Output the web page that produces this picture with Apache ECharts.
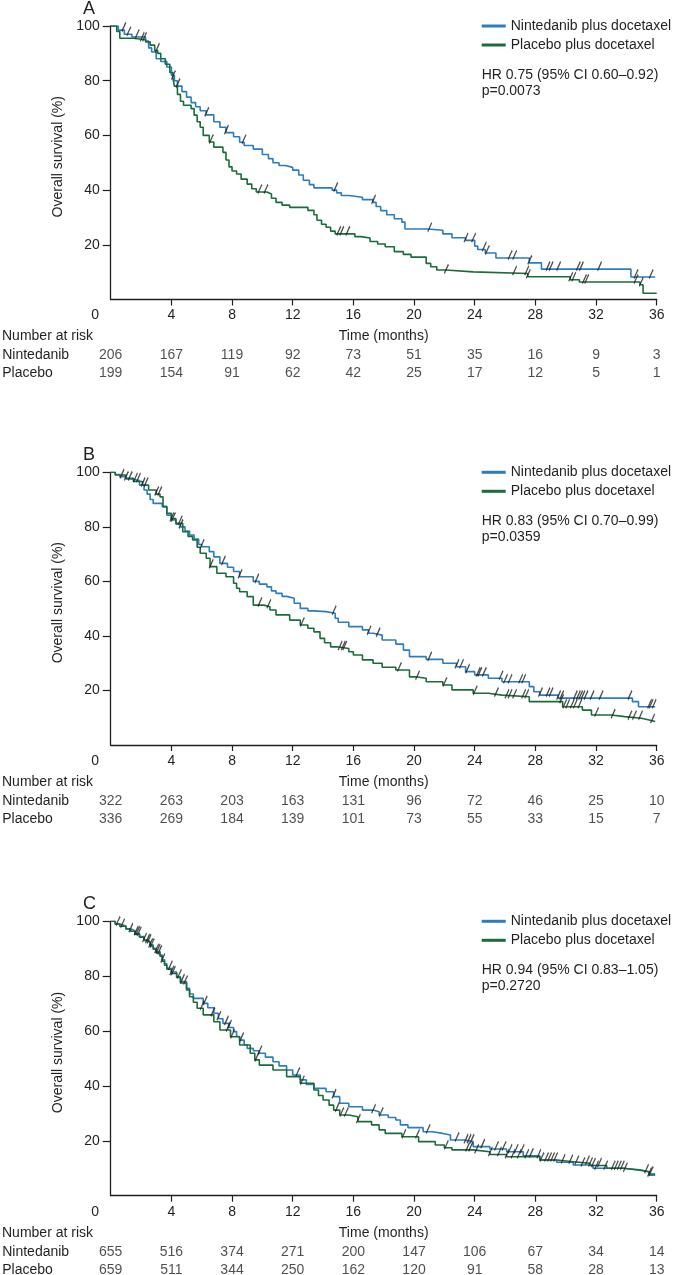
<!DOCTYPE html>
<html>
<head>
<meta charset="utf-8">
<script src="https://cdn.jsdelivr.net/npm/echarts@6/dist/echarts.min.js"></script>
<style>
  html, body { margin: 0; padding: 0; background: #fff; }
  #chart { width: 674px; height: 1275px; }
</style>
</head>
<body>
<div id="chart"></div>
<script>
// ---- data ----
const months = [0, 4, 8, 12, 16, 20, 24, 28, 32, 36];
const survTicks = [20, 40, 60, 80, 100];
const rowNames = ['Nintedanib', 'Placebo'];
const seriesNames = ['Nintedanib plus docetaxel', 'Placebo plus docetaxel'];

// Panel A: Kaplan-Meier steps [month, % surviving]
const kmA_nin = [[0,100],[0.5,98.5],[0.9,97],[1.4,96],[2.3,94.5],[2.5,92],[2.7,90.5],[3.0,88],[3.3,87],[3.7,85],[4.0,82],[4.2,80],[4.4,78],[4.7,76],[5.0,74],[5.3,72],[5.6,70.5],[5.9,69],[6.3,67.5],[6.8,65],[7.2,63],[7.6,61],[8.1,59.5],[8.5,57.5],[8.8,56.3],[9.4,55],[10.0,53],[10.4,51.5],[10.7,50],[11.1,49],[11.5,48.3],[12.0,47.3],[12.4,45.5],[12.7,43.6],[13.1,42],[13.4,40.8],[14.6,40],[14.9,39],[15.2,38],[15.7,37.4],[16.6,36.5],[17.3,35.5],[17.5,34],[17.8,32.5],[18.2,31],[18.7,29.5],[19.2,28.3],[19.4,25.8],[20.9,25.3],[21.9,24],[22.5,22.6],[23.4,21.6],[24.0,19.5],[24.2,18.3],[24.7,17],[25.4,15.2],[27.6,13.4],[28.4,11.1],[34.3,8.2],[35.9,8.2]];
const kmA_pla = [[0,100],[0.4,98],[0.6,95.5],[1.5,95],[2.3,94.2],[2.6,93],[2.9,91],[3.1,90],[3.3,88],[3.6,86],[3.9,83],[4.1,81],[4.2,78],[4.4,75],[4.6,72.5],[4.8,71],[5.3,69.8],[5.5,67.4],[5.7,65],[5.9,63],[6.1,60],[6.5,57.6],[6.8,55.7],[7.4,53.8],[7.6,51],[7.8,48.5],[8.0,47],[8.3,45.9],[8.6,44],[9.0,42.2],[9.3,40.5],[9.6,39.3],[10.3,38.6],[10.6,37],[10.9,35.5],[11.3,34.5],[11.8,33.7],[13.0,32.6],[13.4,31],[13.6,29],[13.9,27.5],[14.2,26.4],[14.5,25],[14.8,24],[16.1,23],[16.5,22.5],[17.1,21.2],[17.6,20.3],[18.1,19.3],[18.7,17.5],[19.3,16.5],[19.8,15.5],[20.8,13.2],[21.1,12],[21.5,10.8],[22.1,10.1],[23.9,9.5],[27.5,8.3],[30.3,7.2],[30.9,6.4],[34.9,5.4],[35.1,2.3],[36.0,2.3]];
const censA_nin = [0.83, 1.16, 1.71, 4.4, 6.3, 7.6, 8.75, 14.8, 17.3, 21.0, 23.4, 23.9, 24.6, 24.8, 26.3, 26.6, 27.6, 28.8, 29.0, 29.5, 30.8, 31.0, 32.2, 34.6, 35.6];
const censA_pla = [2.05, 2.2, 3.05, 4.1, 6.6, 9.8, 10.2, 15.0, 15.2, 15.6, 22.1, 26.6, 27.4, 27.5, 30.3, 30.5, 31.2, 31.35, 34.6, 34.95];
const riskA_nin = [206, 167, 119, 92, 73, 51, 35, 16, 9, 3];
const riskA_pla = [199, 154, 91, 62, 42, 25, 17, 12, 5, 1];
const statsA = 'HR 0.75 (95% CI 0.60–0.92)\np=0.0073';

// Panel B
const kmB_nin = [[0,100],[0.3,99.2],[0.6,98.4],[1.0,97.6],[1.3,97],[1.9,95.3],[2.2,93.5],[2.4,92],[2.6,90],[2.8,88.6],[3.4,87.4],[3.7,84.3],[4.0,82.5],[4.3,81],[4.6,80],[4.9,78.5],[5.2,77],[5.5,75.5],[5.8,73.5],[6.0,72.7],[6.5,70.9],[6.8,69],[7.2,66.6],[7.7,65.2],[8.1,63.6],[8.5,61.7],[9.4,60],[9.8,59],[10.3,58],[10.6,56.5],[10.9,55.6],[11.3,54.5],[11.6,53.8],[12.1,52],[12.5,50.1],[13.0,49.2],[13.4,48.9],[14.2,48.3],[14.8,46.5],[15.0,45],[15.7,43.4],[16.6,42.2],[17.0,41],[17.3,40.3],[17.9,38.5],[18.8,37],[19.3,34.8],[19.7,32.4],[20.8,31.4],[21.9,30],[22.8,28.7],[23.4,26.9],[24.0,25.7],[24.9,24.5],[25.8,23.2],[27.6,21.4],[27.9,19.5],[28.3,18.3],[29.5,17.2],[34.4,15.9],[34.8,14],[35.9,14]];
const kmB_pla = [[0,100],[0.3,99],[1.0,97.8],[1.5,96.6],[2.1,95.3],[2.5,93.5],[3.0,92],[3.25,91],[3.45,87.4],[3.7,85],[4.0,83],[4.3,81.3],[4.75,78.2],[5.1,76.5],[5.4,75.2],[5.7,72.5],[5.9,70.3],[6.3,68.5],[6.55,65.4],[7.0,63],[7.6,61.7],[8.1,59.3],[8.3,57.5],[8.5,56.2],[9.0,54.4],[9.4,51.3],[10.1,50.7],[10.5,49.5],[10.9,47.7],[11.8,45.8],[12.5,44],[13.0,42.8],[13.4,41.5],[13.8,39.1],[14.1,37.5],[14.5,36],[14.9,35.4],[15.7,34.2],[16.0,33],[16.6,31.2],[17.3,30],[17.9,28.5],[18.8,27.5],[19.7,25],[20.1,24.5],[20.8,23.2],[21.9,22],[22.5,20.2],[23.9,19],[24.9,18.3],[25.8,17.7],[27.6,15.9],[29.8,14],[31.1,12.8],[31.7,11],[33.0,10.4],[33.9,9.8],[35.0,9.2],[35.5,8.6],[35.9,8.6]];
const censB_nin = [0.72, 1.0, 1.25, 1.6, 1.8, 4.0, 4.1, 4.6, 6.0, 7.4, 8.5, 9.6, 14.7, 17.0, 17.6, 21.0, 22.8, 23.1, 23.5, 24.2, 24.3, 24.6, 25.7, 26.0, 26.3, 27.0, 27.2, 28.3, 28.8, 29.0, 29.5, 29.7, 30.6, 30.8, 30.95, 31.1, 31.3, 31.7, 32.3, 34.2, 35.5, 35.6, 35.8];
const censB_pla = [2.1, 2.3, 3.0, 3.2, 4.55, 6.6, 9.8, 10.4, 12.6, 15.1, 15.3, 15.4, 19.0, 20.2, 22.0, 24.0, 25.4, 26.1, 26.3, 26.6, 27.2, 27.4, 29.7, 29.9, 30.1, 30.4, 30.6, 30.9, 32.0, 33.1, 34.2, 34.5, 34.9, 35.7];
const riskB_nin = [322, 263, 203, 163, 131, 96, 72, 46, 25, 10];
const riskB_pla = [336, 269, 184, 139, 101, 73, 55, 33, 15, 7];
const statsB = 'HR 0.83 (95% CI 0.70–0.99)\np=0.0359';

// Panel C
const kmC_nin = [[0,100],[0.3,99],[0.6,98.3],[1.0,97.3],[1.3,96.6],[1.6,95.5],[1.9,94.4],[2.2,93.3],[2.4,92.6],[2.6,91.4],[2.8,90.2],[3.0,89],[3.25,87.7],[3.4,86],[3.55,84.5],[3.7,82.9],[4.0,81.5],[4.35,79.8],[4.6,78],[5.0,75.6],[5.2,73.5],[5.45,71.9],[6.1,70.1],[6.4,68.5],[6.8,66.5],[7.1,64.5],[7.4,62.8],[7.8,61.3],[8.1,59.8],[8.3,58],[8.5,56.7],[8.8,55],[9.0,53.7],[9.4,52.8],[9.8,51.9],[10.2,50.5],[10.7,48.8],[11.1,47.3],[11.6,45.8],[12.0,44],[12.5,42.2],[12.9,40.5],[13.4,39.1],[14.2,37.9],[14.7,36.1],[15.1,33.7],[15.7,32.4],[16.6,31.2],[17.3,30.6],[17.7,29.4],[18.3,28.5],[18.8,27.6],[19.1,25.8],[19.6,24.8],[20.6,23.3],[21.2,22.7],[21.9,22.1],[22.4,20.3],[23.3,19.7],[23.9,17.9],[25.0,17],[26.1,16],[27.2,14.5],[28.3,13],[29.4,12.2],[30.5,11.2],[31.8,10],[33.8,9.4],[34.9,8.7],[35.5,7.5],[35.9,7.5]];
const kmC_pla = [[0,100],[0.3,99],[0.6,98.2],[1.0,97.2],[1.3,96.4],[1.6,95.3],[1.9,94.2],[2.2,93],[2.4,92.3],[2.6,91],[2.8,89.8],[3.0,88.5],[3.25,87.3],[3.4,85.5],[3.55,84],[3.7,82.5],[4.0,81],[4.35,79.5],[4.6,77.5],[5.0,75],[5.2,72.5],[5.45,70.5],[5.7,68.3],[6.1,65.9],[6.8,63.4],[7.2,60.4],[7.9,57.9],[8.5,54.9],[9.2,51.9],[9.5,49.5],[9.8,47.6],[10.7,45.8],[11.6,43.4],[12.5,41],[13.4,38.5],[13.7,36.5],[14.0,34.9],[14.4,33],[14.7,31.2],[15.1,29.4],[15.7,28.8],[16.3,27],[17.2,25.8],[17.7,24],[18.1,22.7],[19.2,21.5],[20.3,19.7],[21.4,18.5],[22.0,17.5],[22.5,16.7],[23.9,16],[25.0,15],[26.1,14.2],[28.3,13],[29.4,12.4],[30.5,11.8],[31.6,11],[32.7,10],[33.8,9.3],[34.9,8.7],[35.5,7.9],[35.9,7.9]];
const censC_nin = [0.45, 1.3, 1.65, 1.75, 2.4, 2.5, 3.0, 3.1, 3.9, 4.5, 4.7, 6.2, 7.1, 7.6, 7.8, 8.6, 9.8, 12.3, 14.7, 17.3, 17.8, 20.9, 22.8, 23.4, 23.6, 23.8, 24.5, 25.4, 25.9, 26.3, 26.7, 27.1, 27.7, 28.4, 28.9, 29.3, 30.3, 31.1, 31.6, 32.0, 32.6, 33.3, 33.7, 35.5];
const censC_pla = [0.75, 1.85, 2.2, 2.6, 2.7, 3.2, 3.4, 4.0, 4.1, 4.9, 6.0, 6.7, 7.7, 8.0, 9.6, 12.6, 14.9, 15.2, 15.5, 16.3, 19.3, 20.2, 22.1, 23.5, 23.7, 24.1, 25.0, 25.6, 26.1, 26.5, 26.9, 27.4, 28.2, 28.7, 29.1, 29.8, 30.7, 31.4, 31.8, 32.2, 33.1, 33.5, 33.9, 35.3, 35.6];
const riskC_nin = [655, 516, 374, 271, 200, 147, 106, 67, 34, 14];
const riskC_pla = [659, 511, 344, 250, 162, 120, 91, 58, 28, 13];
const statsC = 'HR 0.94 (95% CI 0.83–1.05)\np=0.2720';

// ---- layout ----
const FONT = '"Liberation Sans", Arial, Helvetica, sans-serif';
const INK = '#231f20';
const BLUE = '#2c7cc0';
const GREEN = '#1b6c3c';
const gridLeft = 110.7;
const gridWidth = 546;

const panels = [
    { letter: 'A', top: 26, height: 273.5, nin: kmA_nin, pla: kmA_pla, cNin: censA_nin, cPla: censA_pla, rNin: riskA_nin, rPla: riskA_pla, stats: statsA },
    { letter: 'B', top: 472.3, height: 272.7, nin: kmB_nin, pla: kmB_pla, cNin: censB_nin, cPla: censB_pla, rNin: riskB_nin, rPla: riskB_pla, stats: statsB },
    { letter: 'C', top: 921.3, height: 274.4, nin: kmC_nin, pla: kmC_pla, cNin: censC_nin, cPla: censC_pla, rNin: riskC_nin, rPla: riskC_pla, stats: statsC }
];

// value of a step curve at time t
function survivalAt(curve, t) {
    let s = curve[0][1];
    for (const [x, y] of curve) {
        if (x <= t) s = y;
        else break;
    }
    return s;
}

const textBase = { fontFamily: FONT, fontSize: 14, color: INK };

const grid = [], xAxis = [], yAxis = [], series = [], legend = [], title = [];

panels.forEach((p, i) => {
    const main = 2 * i, table = 2 * i + 1;
    const axisY = p.top + p.height;

    grid.push({ left: gridLeft, top: p.top, width: gridWidth, height: p.height, outerBoundsMode: 'none' });
    grid.push({ left: gridLeft, top: axisY + 47, width: gridWidth, height: 36, outerBoundsMode: 'none' });

    xAxis.push({
        gridIndex: main, type: 'value', min: 0, max: 36, interval: 4,
        axisLine: { lineStyle: { color: INK, width: 1.3 } },
        axisTick: { length: 6, customValues: months.slice(1), lineStyle: { color: INK, width: 1.2 } },
        axisLabel: {
            ...textBase, margin: 9, customValues: months,
            formatter: v => (v === 0 ? '{z|0}' : String(v)),
            rich: { z: { ...textBase, padding: [0, 31, 0, 0] } }
        },
        splitLine: { show: false },
        name: 'Time (months)', nameLocation: 'middle', nameGap: 30,
        nameTextStyle: textBase
    });
    xAxis.push({ gridIndex: table, type: 'value', min: 0, max: 36, show: false });

    yAxis.push({
        gridIndex: main, type: 'value', min: 0, max: 100, interval: 20,
        axisLine: { show: true, lineStyle: { color: INK, width: 1.3 } },
        axisTick: { show: true, length: 8, customValues: survTicks, lineStyle: { color: INK, width: 1.2 } },
        axisLabel: { ...textBase, margin: 11, customValues: survTicks },
        splitLine: { show: false },
        name: 'Overall survival (%)', nameLocation: 'middle', nameGap: 45,
        nameTextStyle: { ...textBase, padding: [0, 0, 0, 12] }
    });
    yAxis.push({
        gridIndex: table, type: 'category', data: rowNames, inverse: true,
        axisLine: { show: false }, axisTick: { show: false },
        axisLabel: { ...textBase, align: 'left', margin: 108.5, interval: 0 }
    });

    series.push({
        type: 'line', name: seriesNames[0], xAxisIndex: main, yAxisIndex: main,
        step: 'end', showSymbol: false, symbol: 'none', data: p.nin, z: 3,
        lineStyle: { color: BLUE, width: 1.6 }, itemStyle: { color: BLUE }
    });
    series.push({
        type: 'line', name: seriesNames[1], xAxisIndex: main, yAxisIndex: main,
        step: 'end', showSymbol: false, symbol: 'none', data: p.pla, z: 4,
        lineStyle: { color: GREEN, width: 1.6 }, itemStyle: { color: GREEN }
    });

    // censor marks
    [[p.cNin, p.nin], [p.cPla, p.pla]].forEach(([times, curve]) => {
        series.push({
            type: 'scatter', xAxisIndex: main, yAxisIndex: main, z: 5,
            symbol: 'path://M0,10L4,0', symbolSize: [4, 9], symbolOffset: [0.5, -3],
            itemStyle: { color: 'transparent', borderColor: INK, borderWidth: 1.5 },
            data: times.map(t => [t, survivalAt(curve, t)])
        });
    });

    // numbers at risk
    [[p.rNin, rowNames[0]], [p.rPla, rowNames[1]]].forEach(([counts, row]) => {
        series.push({
            type: 'scatter', xAxisIndex: table, yAxisIndex: table,
            symbolSize: 1, itemStyle: { color: 'transparent' },
            label: { show: true, position: 'inside', ...textBase, formatter: d => d.value[2] },
            data: months.map((m, k) => [m, row, counts[k]])
        });
    });

    legend.push({
        orient: 'vertical', left: 481.7, top: p.top - 7, padding: 0,
        icon: 'rect', itemWidth: 24, itemHeight: 3, itemGap: 5,
        textStyle: { ...textBase, lineHeight: 14 },
        data: seriesNames, selectedMode: false
    });

    title.push({
        text: p.letter, left: 83, top: p.top - 26, padding: 0,
        textStyle: { fontFamily: FONT, fontSize: 18, fontWeight: 'normal', color: INK, lineHeight: 18 }
    });
    title.push({
        text: p.stats, left: 481.7, top: p.top + 41, padding: 0,
        textStyle: { ...textBase, fontWeight: 'normal', lineHeight: 16 }
    });
    title.push({
        text: 'Number at risk', left: 2, top: axisY + 30, padding: 0,
        textStyle: { ...textBase, fontWeight: 'normal', lineHeight: 14 }
    });
});

const chart = echarts.init(document.getElementById('chart'), null, { renderer: 'canvas' });
chart.setOption({
    backgroundColor: '#fff',
    animation: false,
    textStyle: { fontFamily: FONT },
    title, legend, grid, xAxis, yAxis, series
});
</script>
</body>
</html>
